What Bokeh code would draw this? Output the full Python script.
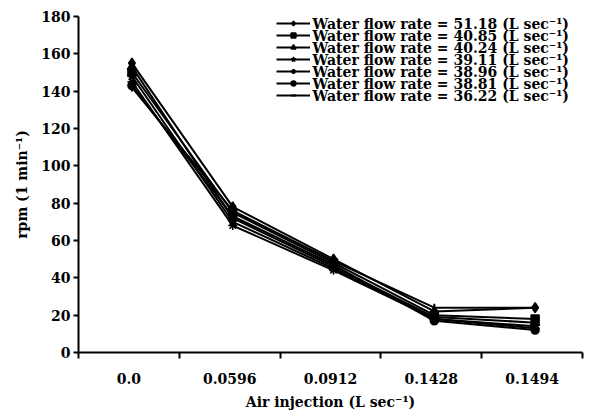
import math
from bokeh.plotting import figure
from bokeh.models import FixedTicker, Legend, LegendItem, Range1d
from bokeh.core.properties import value
from bokeh.embed import file_html
from bokeh.resources import INLINE

air_injection = ["0.0", "0.0596", "0.0912", "0.1428", "0.1494"]
flow_rates = ["51.18", "40.85", "40.24", "39.11", "38.96", "38.81", "36.22"]
rpm_51_18 = [155, 78, 50, 22, 24]
rpm_40_85 = [150, 75, 48, 20, 18]
rpm_40_24 = [153, 72, 46, 19, 16]
rpm_39_11 = [148, 70, 45, 18, 14]
rpm_38_96 = [145, 68, 44, 18, 13]
rpm_38_81 = [143, 73, 47, 17, 12]
rpm_36_22 = [142, 76, 49, 24, 24]
y_ticks = [0, 20, 40, 60, 80, 100, 120, 140, 160, 180]

series = [rpm_51_18, rpm_40_85, rpm_40_24, rpm_39_11, rpm_38_96, rpm_38_81, rpm_36_22]
markers = ["diamond", "square", "triangle", "star", "asterisk", "circle", "dash"]
msizes = [10, 8, 9, 9, 9, 8, 8]
FONT = "DejaVu Serif"

W, H = 592, 419
BL, BR, BT, BB = 78, 10, 16, 67
p = figure(width=W, height=H, output_backend="svg", toolbar_location=None,
           x_range=Range1d(0, 5), y_range=Range1d(0, 180),
           min_border_left=BL, min_border_right=BR, min_border_top=BT, min_border_bottom=BB)
p.xgrid.visible = False
p.ygrid.visible = False
p.outline_line_color = None
p.background_fill_color = "white"

xs = [i + 0.53 for i in range(len(air_injection))]
items = []
labels = []
for vals, fr, mk, ms in zip(series, flow_rates, markers, msizes):
    l = p.line(xs, vals, line_color="black", line_width=2)
    if mk == "dash":
        m = p.scatter(xs, vals, marker=mk, size=ms, angle=math.pi / 2,
                      line_color="black", fill_color="black", line_width=2)
    else:
        m = p.scatter(xs, vals, marker=mk, size=ms, line_color="black",
                      fill_color="black", line_width=1.5)
    items.append(LegendItem(label=" ", renderers=[l, m]))
    labels.append("Water flow rate = " + fr + " (L sec\u207b\u00b9)")

# legend glyph column (frame-relative pixels)
row_h = 12
leg_left, leg_top = 198, 1
legend = Legend(items=items, location=(leg_left, (H - BT - BB) - leg_top - row_h * len(items)),
                border_line_color=None, background_fill_alpha=0,
                label_text_font_size="1px", label_height=row_h, glyph_height=row_h,
                glyph_width=34, spacing=0, padding=0, margin=0, label_standoff=0)
p.add_layout(legend, "center")

# legend texts placed beside the glyphs
px_per_x = (W - BL - BR) / 5.0
px_per_y = (H - BT - BB) / 180.0
tx = (leg_left + 34 + 2) / px_per_x
ty = [180 - (leg_top + row_h / 2 + row_h * i) / px_per_y for i in range(len(labels))]
p.text(x=[tx] * len(labels), y=ty, text=labels, text_font=value(FONT),
       text_font_style="bold", text_font_size="14px", text_baseline="middle",
       text_align="left", text_color="black")

xa = p.xaxis[0]
xa.ticker = FixedTicker(ticks=[i + 0.5 for i in range(len(air_injection))],
                        minor_ticks=list(range(len(air_injection) + 1)))
xa.major_label_overrides = {i + 0.5: lab for i, lab in enumerate(air_injection)}
xa.major_tick_out = 0
xa.major_tick_in = 0
xa.minor_tick_out = 6
xa.minor_tick_in = 0
xa.minor_tick_line_width = 2
xa.axis_line_width = 2
xa.axis_label = "Air injection (L sec\u207b\u00b9)"

ya = p.yaxis[0]
ya.ticker = FixedTicker(ticks=y_ticks, minor_ticks=[])
ya.major_tick_out = 5
ya.major_tick_in = 0
ya.major_tick_line_width = 2
ya.axis_line_width = 2
ya.axis_label = "rpm (1 min\u207b\u00b9)"

for ax in (xa, ya):
    ax.major_label_text_font = FONT
    ax.major_label_text_font_style = "bold"
    ax.major_label_text_font_size = "14px"
    ax.major_label_text_color = "black"
    ax.axis_label_text_font = FONT
    ax.axis_label_text_font_style = "bold"
    ax.axis_label_text_font_size = "14px"
    ax.axis_label_text_color = "black"
    ax.axis_line_color = "black"
    ax.major_tick_line_color = "black"
    ax.minor_tick_line_color = "black"
xa.major_label_standoff = 14
xa.axis_label_standoff = 7
ya.major_label_standoff = 3
ya.axis_label_standoff = 8

open("out.html", "w").write(file_html(p, INLINE))
